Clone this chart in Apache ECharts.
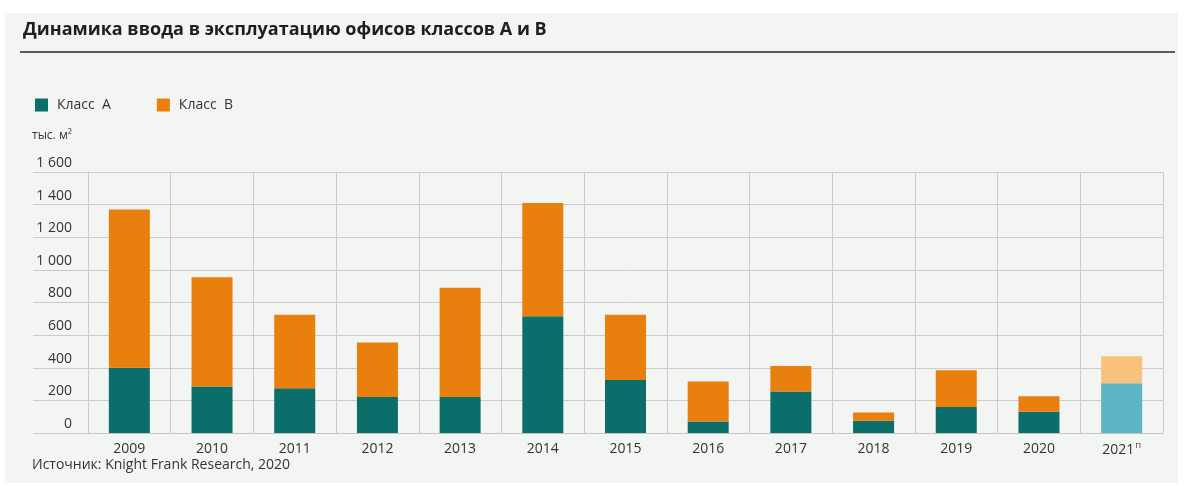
<!DOCTYPE html>
<html>
<head>
<meta charset="utf-8">
<script src="https://cdn.jsdelivr.net/npm/echarts@6/dist/echarts.min.js"></script>
<style>
  html, body { margin: 0; padding: 0; background: #fff; }
  #chart { width: 1197px; height: 487px; }
</style>
</head>
<body>
<div id="chart"></div>
<script>
// данные (тыс. м²)
const years = ['2009', '2010', '2011', '2012', '2013', '2014', '2015', '2016', '2017', '2018', '2019', '2020', '2021'];
const classA = [400, 285, 275, 220, 220, 715, 325, 70, 255, 75, 160, 130, 305];
const classB = [970, 670, 450, 335, 670, 695, 400, 245, 155, 50, 225, 95, 165];
const yTicks = [0, 200, 400, 600, 800, 1000, 1200, 1400, 1600];
const forecastYear = '2021';

const colorA = '#0b6e6b';
const colorB = '#e97f0d';
const colorAForecast = '#5cb5c2';
const colorBForecast = '#f8c27c';
const font = '"Open Sans", "Noto Sans", sans-serif';

// прогнозный год — светлые цвета
function withForecast(values, lightColor) {
  return values.map((v, i) => years[i] === forecastYear
    ? { value: v, itemStyle: { color: lightColor } }
    : v);
}

const chart = echarts.init(document.getElementById('chart'));

chart.setOption({
  backgroundColor: '#ffffff',
  animation: false,
  textStyle: { fontFamily: font },
  graphic: [
    {
      type: 'rect', z: -10, silent: true,
      shape: { x: 5, y: 13, width: 1173, height: 470 },
      style: { fill: '#f3f5f2' }
    },
    {
      type: 'line', silent: true,
      shape: { x1: 20, y1: 52, x2: 1175, y2: 52 },
      style: { stroke: '#5a5a5a', lineWidth: 2 }
    },
    {
      type: 'text', left: 32, top: 130,
      style: { text: 'тыс. м²', fontSize: 12, fill: '#333', fontFamily: font }
    },
    {
      type: 'text', left: 32, top: 458,
      style: { text: 'Источник: Knight Frank Research, 2020', fontSize: 14, fill: '#333', fontFamily: font }
    }
  ],
  title: {
    text: 'Динамика ввода в эксплуатацию офисов классов А и В',
    left: 18,
    top: 16,
    textStyle: { fontSize: 18, fontWeight: 'bold', color: '#1e1e1e', fontFamily: font }
  },
  legend: {
    left: 30,
    top: 93,
    itemWidth: 13,
    itemHeight: 13,
    itemGap: 46,
    icon: 'rect',
    textStyle: { fontSize: 14, color: '#333', padding: [0, 0, 0, 4] },
    data: ['Класс  А', 'Класс  В']
  },
  grid: { left: 88, right: 34, top: 172, bottom: 54 },
  xAxis: {
    type: 'category',
    data: years,
    axisLine: { lineStyle: { color: '#c4c4c4' } },
    axisTick: { show: false },
    splitLine: { show: true, interval: 0, lineStyle: { color: '#cccccc' } },
    axisLabel: {
      fontSize: 14,
      color: '#333',
      margin: 9,
      interval: 0,
      formatter: v => v === forecastYear ? v + '{sup|П}' : v,
      rich: { sup: { fontSize: 8, verticalAlign: 'top', padding: [0, 0, 8, 1], color: '#333' } }
    }
  },
  yAxis: {
    type: 'value',
    min: yTicks[0],
    max: yTicks[yTicks.length - 1],
    interval: 200,
    axisLine: { show: true, lineStyle: { color: '#cccccc' } },
    axisTick: { show: true, length: 55, lineStyle: { color: '#cccccc' } },
    splitLine: { lineStyle: { color: '#cccccc' } },
    axisLabel: {
      fontSize: 14,
      color: '#333',
      margin: 16,
      verticalAlign: 'bottom',
      padding: [0, 0, 2, 0],
      formatter: v => String(v).replace(/\B(?=(\d{3})+(?!\d))/g, ' ')
    }
  },
  series: [
    {
      name: 'Класс  А',
      type: 'bar',
      stack: 'total',
      barWidth: 41,
      itemStyle: { color: colorA },
      data: withForecast(classA, colorAForecast)
    },
    {
      name: 'Класс  В',
      type: 'bar',
      stack: 'total',
      barWidth: 41,
      itemStyle: { color: colorB },
      data: withForecast(classB, colorBForecast)
    }
  ]
});
</script>
</body>
</html>
